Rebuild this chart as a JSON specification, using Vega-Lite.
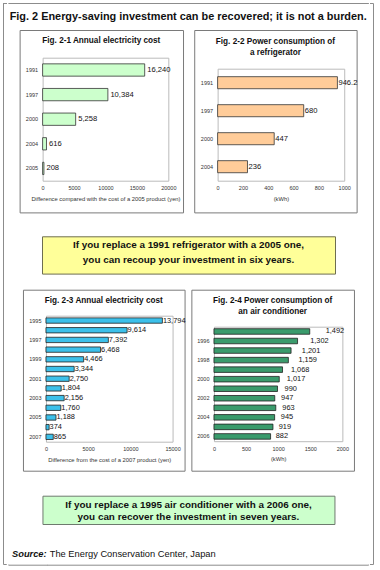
{
  "$schema": "https://vega.github.io/schema/vega-lite/v6.json",
  "background": "white",
  "padding": {"left": 2, "top": 2, "right": 0, "bottom": 0},
  "config": {
    "font": "Liberation Sans",
    "title": {"color": "#111111", "font": "Liberation Sans"},
    "axis": {"labelFont": "Liberation Sans", "titleFont": "Liberation Sans", "labelColor": "#333333", "titleColor": "#333333", "labelFontSize": 5.5, "titleFontSize": 5.8, "titleFontWeight": "normal", "domain": true, "domainColor": "#bbbbbb", "domainWidth": 1, "ticks": false, "grid": false, "labelOverlap": false, "labelFlush": false, "labelPadding": 5, "titlePadding": 4}
  },
  "datasets": {
    "d1": [{"year": 1991, "value": 16240}, {"year": 1997, "value": 10384}, {"year": 2000, "value": 5258}, {"year": 2004, "value": 616}, {"year": 2005, "value": 208}],
    "d2": [{"year": 1991, "value": 946.2}, {"year": 1997, "value": 680}, {"year": 2000, "value": 447}, {"year": 2004, "value": 236}],
    "d3": [{"year": 1995, "value": 13794}, {"year": 1996, "value": 9614}, {"year": 1997, "value": 7392}, {"year": 1998, "value": 6468}, {"year": 1999, "value": 4466}, {"year": 2000, "value": 3344}, {"year": 2001, "value": 2750}, {"year": 2002, "value": 1804}, {"year": 2003, "value": 2156}, {"year": 2004, "value": 1760}, {"year": 2005, "value": 1188}, {"year": 2006, "value": 374}, {"year": 2007, "value": 865}],
    "d4": [{"year": 1995, "value": 1492}, {"year": 1996, "value": 1302}, {"year": 1997, "value": 1201}, {"year": 1998, "value": 1159}, {"year": 1999, "value": 1068}, {"year": 2000, "value": 1017}, {"year": 2001, "value": 990}, {"year": 2002, "value": 947}, {"year": 2003, "value": 963}, {"year": 2004, "value": 945}, {"year": 2005, "value": 919}, {"year": 2006, "value": 882}]
  },
  "spacing": 0,
  "hconcat": [
    {"width": 3, "height": 561, "data": {"values": []}, "mark": "point", "view": {"stroke": "#8c8c8c", "strokeDash": [3, 561, 564], "strokeCap": "square"}},
    {
      "center": true,
      "spacing": 0,
      "vconcat": [
        {"width": 359.5, "height": 24.3, "data": {"values": []}, "mark": "point",
         "view": {"stroke": "#8c8c8c", "strokeDash": [359.5, 408.1], "strokeCap": "square"},
         "title": {"text": "Fig. 2 Energy-saving investment can be recovered; it is not a burden.", "anchor": "start", "offset": -18.5, "dx": 1.3, "fontSize": 10.9, "fontWeight": "bold"}},
        {
          "center": true,
          "spacing": 13.7,
          "vconcat": [
            {
              "center": true,
              "spacing": 22.3,
              "vconcat": [
                {
                  "bounds": "flush",
                  "spacing": 10.6,
                  "hconcat": [
                    {
                      "width": 163.4, "height": 182.4,
                      "data": {"name": "d1"},
                      "view": {"stroke": "#7a7a7a", "fill": "white"},
                      "title": {"text": "Fig. 2-1 Annual electricity cost", "offset": -15, "fontSize": 8.2, "fontWeight": "bold"},
                      "resolve": {"axis": {"x": "independent", "y": "independent"}},
                      "layer": [
                        {"mark": {"type": "bar", "fill": "#CCFFCC", "stroke": "#333333", "strokeWidth": 0.8},
                         "encoding": {
                           "y": {"field": "year", "type": "ordinal", "scale": {"range": [27.7, 150.7], "paddingInner": 0.5, "paddingOuter": 0.25}, "axis": {"orient": "left", "offset": -23, "title": null}},
                           "x": {"field": "value", "type": "quantitative", "scale": {"domain": [0, 20000], "nice": false, "range": [23, 148.7]}, "axis": {"orient": "bottom", "offset": -31.7, "values": [0, 5000, 10000, 15000, 20000], "format": "d", "title": "Difference compared with the cost of a 2005 product (yen)"}}
                         }},
                        {"mark": {"type": "text", "align": "left", "baseline": "middle", "dx": 2.5, "fontSize": 7.6, "color": "#111111"},
                         "encoding": {
                           "y": {"field": "year", "type": "ordinal", "axis": {"orient": "right", "offset": -14.7, "labels": false, "title": null}},
                           "x": {"field": "value", "type": "quantitative", "axis": {"orient": "top", "offset": -27.7, "labels": false, "title": null}},
                           "text": {"field": "value", "type": "quantitative", "format": ","}
                         }}
                      ]
                    },
                    {
                      "width": 162.4, "height": 182.4,
                      "data": {"name": "d2"},
                      "view": {"stroke": "#7a7a7a", "fill": "white"},
                      "title": {"text": ["Fig. 2-2 Power consumption of", "a refrigerator"], "lineHeight": 11, "offset": -26.7, "fontSize": 8.2, "fontWeight": "bold"},
                      "resolve": {"axis": {"x": "independent", "y": "independent"}},
                      "layer": [
                        {"mark": {"type": "bar", "fill": "#FFCC99", "stroke": "#333333", "strokeWidth": 0.8},
                         "encoding": {
                           "y": {"field": "year", "type": "ordinal", "scale": {"range": [38.7, 150.7], "paddingInner": 0.57, "paddingOuter": 0.285}, "axis": {"orient": "left", "offset": -23.4, "title": null}},
                           "x": {"field": "value", "type": "quantitative", "scale": {"domain": [0, 1000], "nice": false, "range": [23.4, 150]}, "axis": {"orient": "bottom", "offset": -31.7, "values": [0, 200, 400, 600, 800, 1000], "format": "d", "title": "(kWh)"}}
                         }},
                        {"mark": {"type": "text", "align": "left", "baseline": "middle", "dx": 1, "fontSize": 7.6, "color": "#111111"},
                         "encoding": {
                           "y": {"field": "year", "type": "ordinal", "axis": {"orient": "right", "offset": -12.4, "labels": false, "title": null}},
                           "x": {"field": "value", "type": "quantitative", "axis": {"orient": "top", "offset": -38.7, "labels": false, "title": null}},
                           "text": {"field": "value", "type": "quantitative", "format": "~f"}
                         }}
                      ]
                    }
                  ]
                },
                {
                  "width": 293, "height": 37.3,
                  "data": {"values": [{}]},
                  "view": {"fill": "#FFFF99", "stroke": "#6e6e50"},
                  "mark": {"type": "text", "text": ["If you replace a 1991 refrigerator with a 2005 one,", "you can recoup your investment in six years."], "fontSize": 9.9, "fontWeight": "bold", "lineHeight": 15, "align": "center", "baseline": "middle", "dy": -10.3, "color": "#111111"}
                }
              ]
            },
            {
              "center": true,
              "spacing": 23,
              "vconcat": [
                {
                  "bounds": "flush",
                  "spacing": 6.4,
                  "hconcat": [
                    {
                      "width": 161.6, "height": 181,
                      "data": {"name": "d3"},
                      "view": {"stroke": "#7a7a7a", "fill": "white"},
                      "title": {"text": "Fig. 2-3 Annual electricity cost", "offset": -15, "fontSize": 8.2, "fontWeight": "bold"},
                      "resolve": {"axis": {"x": "independent", "y": "independent"}},
                      "layer": [
                        {"mark": {"type": "bar", "fill": "#3CC0EA", "stroke": "#222222", "strokeWidth": 0.8},
                         "encoding": {
                           "y": {"field": "year", "type": "ordinal", "scale": {"range": [26, 152], "paddingInner": 0.45, "paddingOuter": 0.225}, "axis": {"orient": "left", "offset": -23, "title": null, "values": [1995, 1997, 1999, 2001, 2003, 2005, 2007]}},
                           "x": {"field": "value", "type": "quantitative", "scale": {"domain": [0, 15000], "nice": false, "range": [23, 149.6]}, "axis": {"orient": "bottom", "offset": -29, "values": [0, 5000, 10000, 15000], "format": "d", "title": "Difference from the cost of a 2007 product (yen)"}}
                         }},
                        {"mark": {"type": "text", "align": "left", "baseline": "middle", "dx": 0.5, "fontSize": 7.4, "color": "#111111"},
                         "encoding": {
                           "y": {"field": "year", "type": "ordinal", "axis": {"orient": "right", "offset": -12, "labels": false, "title": null}},
                           "x": {"field": "value", "type": "quantitative", "axis": {"orient": "top", "offset": -26, "labels": false, "title": null}},
                           "text": {"field": "value", "type": "quantitative", "format": ","}
                         }}
                      ]
                    },
                    {
                      "width": 162.6, "height": 181,
                      "data": {"name": "d4"},
                      "view": {"stroke": "#7a7a7a", "fill": "white"},
                      "title": {"text": ["Fig. 2-4 Power consumption of", "an air conditioner"], "lineHeight": 11, "offset": -26.5, "fontSize": 8.2, "fontWeight": "bold"},
                      "resolve": {"scale": {"x": "independent"}, "axis": {"x": "independent", "y": "independent"}},
                      "layer": [
                        {"mark": {"type": "bar", "fill": "#3A9B6C", "stroke": "#222222", "strokeWidth": 0.8},
                         "encoding": {
                           "y": {"field": "year", "type": "ordinal", "scale": {"range": [37, 151.5], "paddingInner": 0.42, "paddingOuter": 0.21}, "axis": {"orient": "left", "offset": -22.6, "title": null, "values": [1996, 1998, 2000, 2002, 2004, 2006]}},
                           "x": {"field": "value", "type": "quantitative", "scale": {"domain": [0, 2000], "nice": false, "range": [22.6, 151]}, "axis": {"orient": "bottom", "offset": -29.5, "values": [0, 500, 1000, 1500, 2000], "format": "d", "title": "(kWh)"}}
                         }},
                        {"mark": {"type": "bar", "opacity": 0},
                         "encoding": {
                           "y": {"field": "year", "type": "ordinal", "axis": {"orient": "right", "offset": -11.6, "labels": false, "title": null}},
                           "x": {"field": "value", "type": "quantitative", "scale": {"domain": [0, 2000], "nice": false, "range": [22.6, 151]}, "axis": {"orient": "top", "offset": -37, "labels": false, "title": null}}
                         }},
                        {"mark": {"type": "text", "align": "left", "baseline": "middle", "fontSize": 7.4, "color": "#111111"},
                         "encoding": {
                           "y": {"field": "year", "type": "ordinal", "axis": null},
                           "x": {"field": "value", "type": "quantitative", "scale": {"domain": [0, 2000], "nice": false, "range": [12, 176]}, "axis": null},
                           "text": {"field": "value", "type": "quantitative", "format": ","}
                         }}
                      ]
                    }
                  ]
                },
                {
                  "width": 292, "height": 28.3,
                  "data": {"values": [{}]},
                  "view": {"fill": "#CCFFCC", "stroke": "#6e7a6e"},
                  "mark": {"type": "text", "text": ["If you replace a 1995 air conditioner with a 2006 one,", "you can recover the investment in seven years."], "fontSize": 9.9, "fontWeight": "bold", "lineHeight": 12.7, "align": "center", "baseline": "middle", "dy": -5.2, "color": "#111111"}
                }
              ]
            }
          ]
        },
        {
          "bounds": "flush",
          "spacing": 0,
          "hconcat": [
            {"width": 38.5, "height": 38.7, "data": {"values": []}, "mark": "point",
             "view": {"stroke": "#8c8c8c", "strokeDash": [38.5, 115.9], "strokeDashOffset": 77.2, "strokeCap": "square"},
             "title": {"text": "Source:", "orient": "bottom", "anchor": "end", "offset": -14.5, "fontSize": 9.3, "fontWeight": "bold", "fontStyle": "italic"}},
            {"width": 321, "height": 38.7, "data": {"values": []}, "mark": "point",
             "view": {"stroke": "#8c8c8c", "strokeDash": [321, 398.4], "strokeDashOffset": 359.7, "strokeCap": "square"},
             "title": {"text": "The Energy Conservation Center, Japan", "orient": "bottom", "anchor": "start", "dx": 2.6, "offset": -14.5, "fontSize": 9.3, "fontWeight": "normal"}}
          ]
        }
      ]
    },
    {"width": 3, "height": 561, "data": {"values": []}, "mark": "point", "view": {"stroke": "#8c8c8c", "strokeDash": [567, 561], "strokeCap": "square"}}
  ]
}
